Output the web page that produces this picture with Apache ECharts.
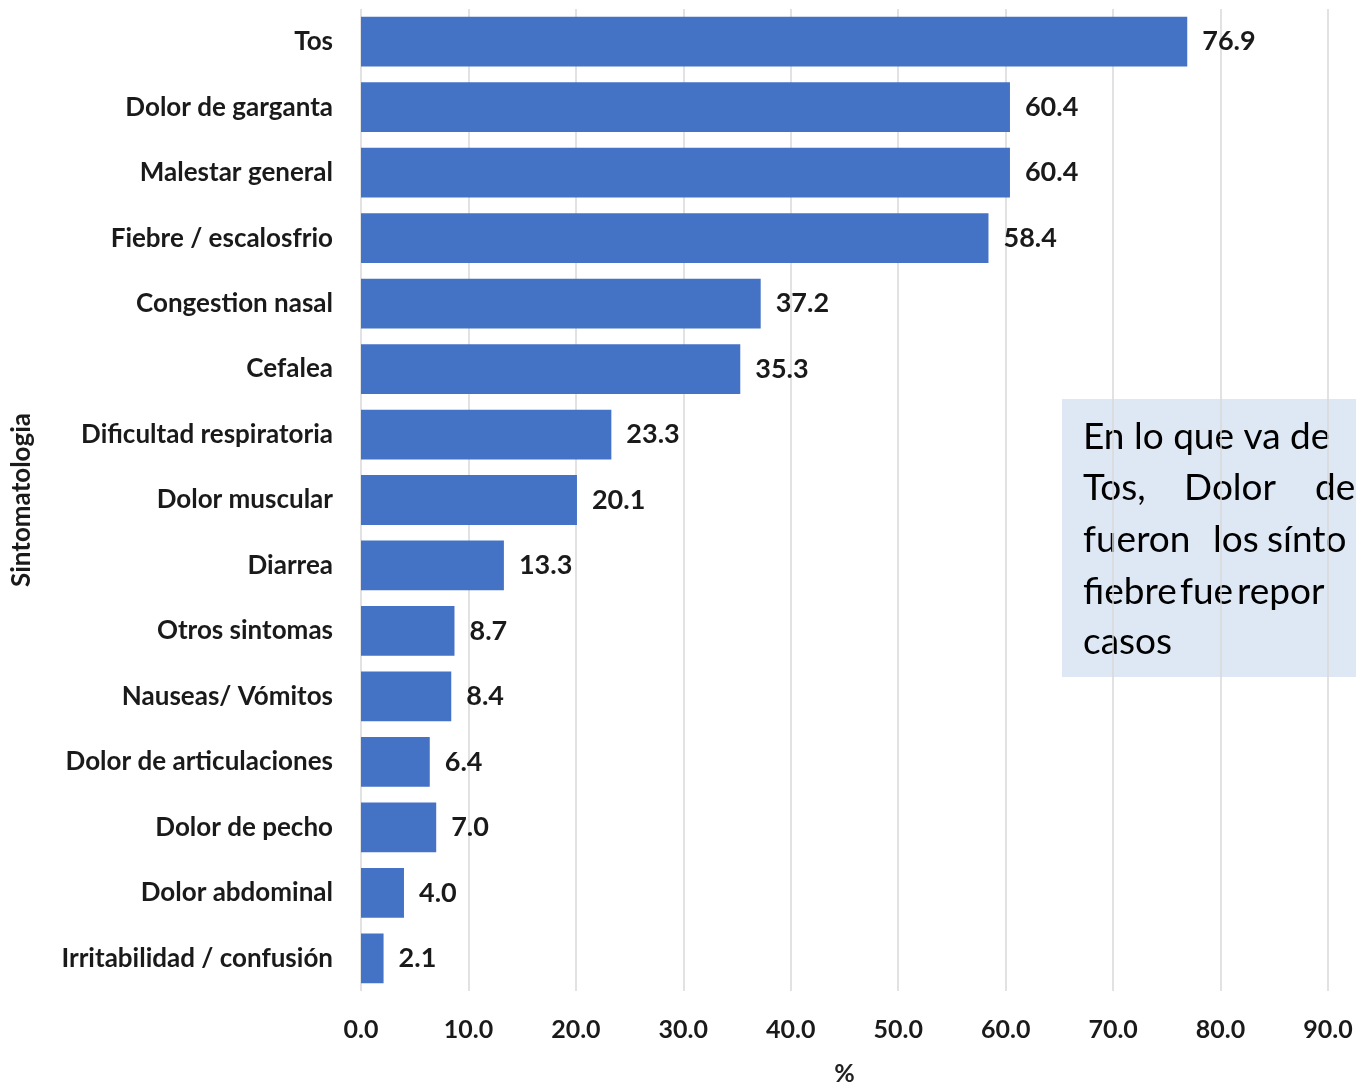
<!DOCTYPE html>
<html>
<head>
<meta charset="utf-8">
<script src="https://cdn.jsdelivr.net/npm/echarts@6/dist/echarts.min.js"></script>
<style>
html,body{margin:0;padding:0;background:#fff;}
#chart{width:1356px;height:1083px;}
</style>
</head>
<body>
<div id="chart"></div>
<script>
const categories = [
  "Tos", "Dolor de garganta", "Malestar general", "Fiebre / escalosfrio",
  "Congestion nasal", "Cefalea", "Dificultad respiratoria", "Dolor muscular",
  "Diarrea", "Otros sintomas", "Nauseas/ Vómitos", "Dolor de articulaciones",
  "Dolor de pecho", "Dolor abdominal", "Irritabilidad / confusión"
];
const values = [76.9, 60.4, 60.4, 58.4, 37.2, 35.3, 23.3, 20.1, 13.3, 8.7, 8.4, 6.4, 7.0, 4.0, 2.1];
const xTicks = [0, 10, 20, 30, 40, 50, 60, 70, 80, 90];
const yAxisTitle = "Sintomatologia";
const xAxisTitle = "%";
const noteLines = [
  ["En lo que va de"],
  ["Tos,", "Dolor", "de"],
  ["fueron", "los", "sínto"],
  ["fiebre", "fue", "repor"],
  ["casos"]
];

const chart = echarts.init(document.getElementById('chart'));
const labelFont = 'Lato';
const wordX = [[1083], [1083, 1184, 1315], [1083, 1213, 1267], [1083, 1180, 1237], [1083]];
const lineY = [437, 488, 540, 592, 642];
const noteTexts = [];
noteLines.forEach((words, i) => {
  words.forEach((w, j) => {
    noteTexts.push({
      type: 'text', x: wordX[i][j], y: lineY[i],
      style: { text: w, font: '37px Lato', fill: '#000', textVerticalAlign: 'middle' }
    });
  });
});

chart.setOption({
  animation: false,
  backgroundColor: '#fff',
  grid: { left: 361, right: 28, top: 9, bottom: 92, outerBoundsMode: 'none', containLabel: false },
  xAxis: {
    type: 'value', min: xTicks[0], max: xTicks[xTicks.length - 1], interval: 10,
    name: xAxisTitle, nameLocation: 'middle', nameGap: 70,
    nameTextStyle: { fontFamily: labelFont, fontWeight: 'bold', fontSize: 25, color: '#222' },
    axisLine: { show: false }, axisTick: { show: false },
    axisLabel: { margin: 26, fontFamily: labelFont, fontWeight: 'bold', fontSize: 25, color: '#1a1a1a',
      formatter: v => v.toFixed(1) },
    splitLine: { show: true, lineStyle: { color: '#d9d9d9', width: 1.5 } }
  },
  yAxis: {
    type: 'category', data: categories, inverse: true,
    name: yAxisTitle, nameLocation: 'middle', nameGap: 326, nameRotate: 90,
    nameTextStyle: { fontFamily: labelFont, fontWeight: 'bold', fontSize: 26, color: '#1a1a1a' },
    axisLine: { show: false }, axisTick: { show: false },
    axisLabel: { margin: 28, fontFamily: labelFont, fontWeight: 'bold', fontSize: 26, color: '#1a1a1a' },
    splitLine: { show: false }
  },
  series: [{
    type: 'bar', data: values, barCategoryGap: '24%',
    itemStyle: { color: '#4472C4' },
    label: { show: true, position: 'right', distance: 15, fontFamily: labelFont, fontWeight: 'bold',
      fontSize: 27, color: '#1a1a1a', formatter: p => p.value.toFixed(1) }
  }],
  graphic: [{
    type: 'group', z: 100,
    children: [
      { type: 'rect', shape: { x: 1062, y: 399, width: 320, height: 278 }, style: { fill: '#dee8f5' } }
    ].concat(noteTexts)
  }]
});
</script>
</body>
</html>
